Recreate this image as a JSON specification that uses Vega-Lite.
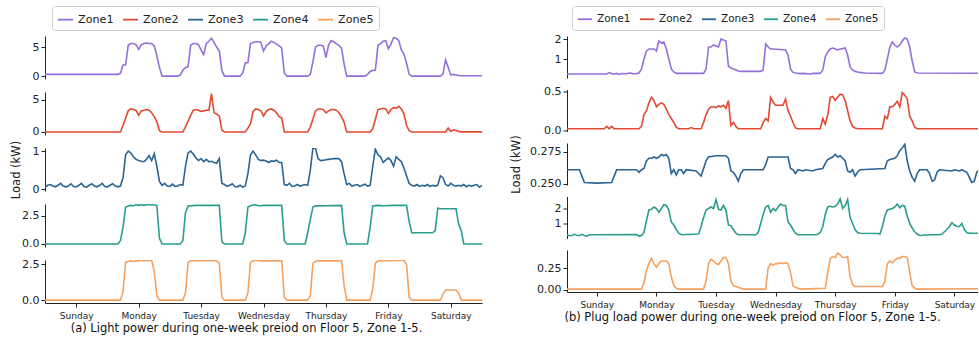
{
"$schema":"https://vega.github.io/schema/vega-lite/v6.json",
"autosize":{"type":"pad"},
"padding":{"left":10,"top":5,"right":0,"bottom":2},
"config":{"font":"DejaVu Sans","view":{"stroke":null},"axis":{"grid":false,"domainColor":"#222","domainWidth":1,"tickColor":"#222","tickSize":4,"labelColor":"#222","labelFontSize":11,"labelPadding":2,"labelFont":"DejaVu Sans","titleFont":"DejaVu Sans"},"legend":{"labelFont":"DejaVu Sans"}},
"datasets":{
"a1":[{"t":0,"v":0.3},{"t":28,"v":0.3},{"t":29,"v":0.5},{"t":30,"v":1.9},{"t":31,"v":1.9},{"t":32,"v":5.3},{"t":33,"v":5.6},{"t":34,"v":5.6},{"t":35,"v":5.4},{"t":36,"v":4.6},{"t":37,"v":5.4},{"t":38,"v":5.6},{"t":39,"v":5.7},{"t":40,"v":5.6},{"t":41,"v":5.6},{"t":42,"v":5.2},{"t":43,"v":3.5},{"t":44,"v":1.5},{"t":45,"v":0},{"t":51,"v":0},{"t":52,"v":0.2},{"t":53,"v":1.0},{"t":54,"v":1.5},{"t":55,"v":1.6},{"t":56,"v":5.3},{"t":57,"v":5.6},{"t":58,"v":5.6},{"t":59,"v":5.4},{"t":60,"v":4.5},{"t":61,"v":3.7},{"t":62,"v":5.6},{"t":63,"v":6.0},{"t":64,"v":6.5},{"t":65,"v":5.8},{"t":66,"v":5.0},{"t":67,"v":4.3},{"t":68,"v":1.0},{"t":69,"v":0},{"t":75,"v":0},{"t":76,"v":0.5},{"t":77,"v":2.3},{"t":78,"v":2.3},{"t":79,"v":5.6},{"t":80,"v":5.8},{"t":81,"v":5.9},{"t":82,"v":5.9},{"t":83,"v":5.8},{"t":84,"v":4.3},{"t":85,"v":5.2},{"t":86,"v":5.6},{"t":87,"v":6.0},{"t":88,"v":5.8},{"t":89,"v":5.5},{"t":90,"v":5.2},{"t":91,"v":4.8},{"t":92,"v":0.5},{"t":93,"v":0},{"t":101,"v":0},{"t":102,"v":0.3},{"t":103,"v":2.5},{"t":104,"v":5.0},{"t":105,"v":5.3},{"t":106,"v":5.3},{"t":107,"v":5.2},{"t":108,"v":3.2},{"t":109,"v":5.3},{"t":110,"v":6.1},{"t":111,"v":5.9},{"t":112,"v":5.6},{"t":113,"v":5.3},{"t":114,"v":4.8},{"t":115,"v":2.0},{"t":116,"v":0},{"t":123,"v":0},{"t":124,"v":0.3},{"t":125,"v":0.8},{"t":126,"v":1.0},{"t":127,"v":1.0},{"t":128,"v":5.3},{"t":129,"v":5.6},{"t":130,"v":6.0},{"t":131,"v":6.1},{"t":132,"v":4.7},{"t":133,"v":5.5},{"t":134,"v":6.6},{"t":135,"v":6.5},{"t":136,"v":6.1},{"t":137,"v":4.5},{"t":138,"v":3.8},{"t":139,"v":2.2},{"t":140,"v":0.3},{"t":141,"v":0},{"t":152,"v":0},{"t":153,"v":0.4},{"t":154,"v":2.8},{"t":155,"v":1.5},{"t":156,"v":0.2},{"t":157,"v":0.3},{"t":158,"v":0.2},{"t":159,"v":0.1},{"t":160,"v":0.05},{"t":168,"v":0.05}],
"a2":[{"t":0,"v":0},{"t":29,"v":0},{"t":30,"v":1.0},{"t":31,"v":2.2},{"t":32,"v":3.3},{"t":33,"v":3.6},{"t":34,"v":3.5},{"t":35,"v":3.4},{"t":36,"v":2.6},{"t":37,"v":3.3},{"t":38,"v":3.4},{"t":39,"v":3.5},{"t":40,"v":3.4},{"t":41,"v":3.0},{"t":42,"v":2.4},{"t":43,"v":1.6},{"t":44,"v":0.2},{"t":45,"v":0},{"t":53,"v":0},{"t":54,"v":0.8},{"t":55,"v":1.7},{"t":56,"v":2.6},{"t":57,"v":3.4},{"t":58,"v":3.5},{"t":59,"v":3.4},{"t":60,"v":3.2},{"t":61,"v":3.3},{"t":62,"v":3.4},{"t":63,"v":3.4},{"t":64,"v":6.0},{"t":65,"v":3.0},{"t":66,"v":2.8},{"t":67,"v":2.5},{"t":68,"v":0.3},{"t":69,"v":0},{"t":77,"v":0},{"t":78,"v":0.6},{"t":79,"v":1.3},{"t":80,"v":3.2},{"t":81,"v":3.6},{"t":82,"v":3.5},{"t":83,"v":3.3},{"t":84,"v":2.5},{"t":85,"v":3.2},{"t":86,"v":3.5},{"t":87,"v":3.6},{"t":88,"v":3.4},{"t":89,"v":3.0},{"t":90,"v":2.4},{"t":91,"v":2.2},{"t":92,"v":0},{"t":101,"v":0},{"t":102,"v":0.8},{"t":103,"v":2.0},{"t":104,"v":3.3},{"t":105,"v":3.6},{"t":106,"v":3.6},{"t":107,"v":3.5},{"t":108,"v":3.0},{"t":109,"v":3.3},{"t":110,"v":3.5},{"t":111,"v":3.5},{"t":112,"v":3.4},{"t":113,"v":3.0},{"t":114,"v":2.4},{"t":115,"v":1.5},{"t":116,"v":0},{"t":125,"v":0},{"t":126,"v":0.5},{"t":127,"v":2.0},{"t":128,"v":3.5},{"t":129,"v":3.6},{"t":130,"v":3.7},{"t":131,"v":3.6},{"t":132,"v":2.9},{"t":133,"v":3.5},{"t":134,"v":3.8},{"t":135,"v":3.7},{"t":136,"v":4.0},{"t":137,"v":3.6},{"t":138,"v":2.8},{"t":139,"v":1.0},{"t":140,"v":0.2},{"t":141,"v":0},{"t":154,"v":0},{"t":155,"v":0.6},{"t":156,"v":0.1},{"t":157,"v":0.35},{"t":158,"v":0.25},{"t":159,"v":0.1},{"t":160,"v":0.02},{"t":168,"v":0.02}],
"a3":[{"t":0,"v":0.05},{"t":1,"v":0.1},{"t":2,"v":0.12},{"t":3,"v":0.08},{"t":4,"v":0.06},{"t":5,"v":0.1},{"t":6,"v":0.15},{"t":7,"v":0.08},{"t":8,"v":0.06},{"t":9,"v":0.08},{"t":10,"v":0.14},{"t":11,"v":0.07},{"t":12,"v":0.06},{"t":13,"v":0.1},{"t":14,"v":0.15},{"t":15,"v":0.07},{"t":16,"v":0.05},{"t":17,"v":0.1},{"t":18,"v":0.14},{"t":19,"v":0.08},{"t":20,"v":0.06},{"t":21,"v":0.1},{"t":22,"v":0.15},{"t":23,"v":0.07},{"t":24,"v":0.06},{"t":25,"v":0.1},{"t":26,"v":0.14},{"t":27,"v":0.08},{"t":28,"v":0.06},{"t":29,"v":0.08},{"t":30,"v":0.3},{"t":31,"v":0.9},{"t":32,"v":1.0},{"t":33,"v":0.95},{"t":34,"v":0.85},{"t":35,"v":0.78},{"t":36,"v":0.75},{"t":37,"v":0.73},{"t":38,"v":0.72},{"t":39,"v":0.78},{"t":40,"v":0.88},{"t":41,"v":0.75},{"t":42,"v":0.93},{"t":43,"v":0.6},{"t":44,"v":0.2},{"t":45,"v":0.1},{"t":46,"v":0.15},{"t":47,"v":0.08},{"t":48,"v":0.07},{"t":49,"v":0.13},{"t":50,"v":0.07},{"t":51,"v":0.08},{"t":52,"v":0.12},{"t":53,"v":0.1},{"t":54,"v":0.6},{"t":55,"v":0.95},{"t":56,"v":1.0},{"t":57,"v":0.92},{"t":58,"v":0.82},{"t":59,"v":0.75},{"t":60,"v":0.8},{"t":61,"v":0.72},{"t":62,"v":0.78},{"t":63,"v":0.72},{"t":64,"v":0.73},{"t":65,"v":0.7},{"t":66,"v":0.68},{"t":67,"v":0.8},{"t":68,"v":0.15},{"t":69,"v":0.12},{"t":70,"v":0.07},{"t":71,"v":0.1},{"t":72,"v":0.14},{"t":73,"v":0.07},{"t":74,"v":0.06},{"t":75,"v":0.1},{"t":76,"v":0.05},{"t":77,"v":0.08},{"t":78,"v":0.4},{"t":79,"v":0.9},{"t":80,"v":1.0},{"t":81,"v":0.9},{"t":82,"v":0.78},{"t":83,"v":0.75},{"t":84,"v":0.76},{"t":85,"v":0.74},{"t":86,"v":0.7},{"t":87,"v":0.74},{"t":88,"v":0.73},{"t":89,"v":0.76},{"t":90,"v":0.7},{"t":91,"v":0.7},{"t":92,"v":0.12},{"t":93,"v":0.1},{"t":94,"v":0.15},{"t":95,"v":0.07},{"t":96,"v":0.08},{"t":97,"v":0.12},{"t":98,"v":0.08},{"t":99,"v":0.1},{"t":100,"v":0.12},{"t":101,"v":0.1},{"t":102,"v":0.5},{"t":103,"v":1.08},{"t":104,"v":1.07},{"t":105,"v":0.8},{"t":106,"v":0.75},{"t":107,"v":0.76},{"t":108,"v":0.77},{"t":109,"v":0.78},{"t":110,"v":0.79},{"t":111,"v":0.8},{"t":112,"v":0.8},{"t":113,"v":0.8},{"t":114,"v":0.72},{"t":115,"v":0.4},{"t":116,"v":0.12},{"t":117,"v":0.15},{"t":118,"v":0.08},{"t":119,"v":0.1},{"t":120,"v":0.12},{"t":121,"v":0.07},{"t":122,"v":0.1},{"t":123,"v":0.13},{"t":124,"v":0.08},{"t":125,"v":0.1},{"t":126,"v":0.6},{"t":127,"v":1.05},{"t":128,"v":0.9},{"t":129,"v":0.85},{"t":130,"v":0.7},{"t":131,"v":0.76},{"t":132,"v":0.82},{"t":133,"v":0.75},{"t":134,"v":0.6},{"t":135,"v":0.85},{"t":136,"v":0.78},{"t":137,"v":0.72},{"t":138,"v":0.55},{"t":139,"v":0.35},{"t":140,"v":0.15},{"t":141,"v":0.1},{"t":142,"v":0.08},{"t":143,"v":0.12},{"t":144,"v":0.07},{"t":145,"v":0.1},{"t":146,"v":0.08},{"t":147,"v":0.12},{"t":148,"v":0.07},{"t":149,"v":0.1},{"t":150,"v":0.08},{"t":151,"v":0.1},{"t":152,"v":0.35},{"t":153,"v":0.3},{"t":154,"v":0.12},{"t":155,"v":0.08},{"t":156,"v":0.15},{"t":157,"v":0.1},{"t":158,"v":0.08},{"t":159,"v":0.1},{"t":160,"v":0.08},{"t":161,"v":0.12},{"t":162,"v":0.06},{"t":163,"v":0.1},{"t":164,"v":0.08},{"t":165,"v":0.1},{"t":166,"v":0.12},{"t":167,"v":0.05},{"t":168,"v":0.1}],
"a4":[{"t":0,"v":0},{"t":28,"v":0},{"t":29,"v":0.3},{"t":30,"v":1.5},{"t":31,"v":3.3},{"t":32,"v":3.4},{"t":33,"v":3.45},{"t":34,"v":3.42},{"t":35,"v":3.5},{"t":36,"v":3.45},{"t":37,"v":3.52},{"t":38,"v":3.45},{"t":39,"v":3.5},{"t":40,"v":3.5},{"t":41,"v":3.5},{"t":42,"v":3.48},{"t":43,"v":3.45},{"t":44,"v":0.5},{"t":45,"v":0},{"t":52,"v":0},{"t":53,"v":0.3},{"t":54,"v":2.8},{"t":55,"v":3.4},{"t":58,"v":3.45},{"t":67,"v":3.45},{"t":68,"v":0.2},{"t":69,"v":0},{"t":76,"v":0},{"t":77,"v":1.0},{"t":78,"v":3.3},{"t":79,"v":3.42},{"t":80,"v":3.48},{"t":81,"v":3.5},{"t":82,"v":3.42},{"t":83,"v":3.42},{"t":84,"v":3.45},{"t":91,"v":3.45},{"t":92,"v":0.3},{"t":93,"v":0},{"t":100,"v":0},{"t":101,"v":1.0},{"t":102,"v":2.2},{"t":103,"v":3.3},{"t":104,"v":3.4},{"t":108,"v":3.42},{"t":114,"v":3.45},{"t":115,"v":1.0},{"t":116,"v":0},{"t":124,"v":0},{"t":125,"v":1.5},{"t":126,"v":3.4},{"t":128,"v":3.45},{"t":130,"v":3.42},{"t":134,"v":3.45},{"t":139,"v":3.45},{"t":140,"v":2.0},{"t":141,"v":1.0},{"t":149,"v":1.0},{"t":150,"v":1.2},{"t":151,"v":3.2},{"t":152,"v":3.15},{"t":158,"v":3.15},{"t":159,"v":1.8},{"t":160,"v":1.2},{"t":161,"v":0},{"t":168,"v":0}],
"a5":[{"t":0,"v":0},{"t":29,"v":0},{"t":30,"v":0.6},{"t":31,"v":2.63},{"t":32,"v":2.68},{"t":33,"v":2.72},{"t":34,"v":2.68},{"t":35,"v":2.72},{"t":36,"v":2.72},{"t":37,"v":2.76},{"t":38,"v":2.72},{"t":39,"v":2.74},{"t":40,"v":2.75},{"t":41,"v":2.76},{"t":42,"v":2.0},{"t":43,"v":0.3},{"t":44,"v":0},{"t":53,"v":0},{"t":54,"v":0.5},{"t":55,"v":2.63},{"t":56,"v":2.72},{"t":58,"v":2.74},{"t":66,"v":2.74},{"t":67,"v":2.55},{"t":68,"v":0.2},{"t":69,"v":0},{"t":77,"v":0},{"t":78,"v":0.5},{"t":79,"v":2.63},{"t":80,"v":2.72},{"t":81,"v":2.76},{"t":83,"v":2.72},{"t":91,"v":2.72},{"t":92,"v":0.2},{"t":93,"v":0},{"t":101,"v":0},{"t":102,"v":0.3},{"t":103,"v":2.55},{"t":104,"v":2.68},{"t":105,"v":2.72},{"t":114,"v":2.72},{"t":115,"v":1.0},{"t":116,"v":0},{"t":125,"v":0},{"t":126,"v":0.8},{"t":127,"v":2.55},{"t":128,"v":2.72},{"t":138,"v":2.76},{"t":139,"v":2.45},{"t":140,"v":0.2},{"t":141,"v":0},{"t":152,"v":0},{"t":153,"v":0.4},{"t":154,"v":0.7},{"t":158,"v":0.7},{"t":159,"v":0.5},{"t":160,"v":0},{"t":168,"v":0}],
"b1":[{"t":0,"v":0.25},{"t":16,"v":0.25},{"t":17,"v":0.32},{"t":18,"v":0.27},{"t":19,"v":0.25},{"t":20,"v":0.28},{"t":21,"v":0.23},{"t":22,"v":0.27},{"t":24,"v":0.26},{"t":25,"v":0.3},{"t":26,"v":0.28},{"t":27,"v":0.26},{"t":28,"v":0.27},{"t":29,"v":0.3},{"t":30,"v":0.5},{"t":31,"v":1.0},{"t":32,"v":1.4},{"t":33,"v":1.5},{"t":34,"v":1.5},{"t":35,"v":1.5},{"t":36,"v":1.4},{"t":37,"v":1.9},{"t":38,"v":1.8},{"t":39,"v":1.85},{"t":40,"v":1.5},{"t":41,"v":1.0},{"t":42,"v":0.5},{"t":43,"v":0.35},{"t":44,"v":0.28},{"t":55,"v":0.28},{"t":56,"v":0.5},{"t":57,"v":1.6},{"t":58,"v":1.6},{"t":59,"v":1.7},{"t":60,"v":1.65},{"t":61,"v":1.6},{"t":62,"v":2.0},{"t":63,"v":1.95},{"t":64,"v":1.9},{"t":65,"v":0.65},{"t":66,"v":0.55},{"t":67,"v":0.5},{"t":68,"v":0.45},{"t":69,"v":0.4},{"t":70,"v":0.38},{"t":78,"v":0.38},{"t":79,"v":0.45},{"t":80,"v":1.75},{"t":81,"v":1.6},{"t":82,"v":1.5},{"t":83,"v":1.5},{"t":88,"v":1.45},{"t":89,"v":1.2},{"t":90,"v":0.5},{"t":91,"v":0.33},{"t":92,"v":0.3},{"t":94,"v":0.27},{"t":95,"v":0.28},{"t":98,"v":0.25},{"t":99,"v":0.28},{"t":102,"v":0.28},{"t":103,"v":0.45},{"t":104,"v":1.1},{"t":105,"v":1.35},{"t":106,"v":1.5},{"t":107,"v":1.55},{"t":108,"v":1.5},{"t":109,"v":1.45},{"t":110,"v":1.5},{"t":111,"v":1.52},{"t":112,"v":1.55},{"t":113,"v":1.2},{"t":114,"v":0.6},{"t":115,"v":0.45},{"t":116,"v":0.38},{"t":117,"v":0.35},{"t":118,"v":0.33},{"t":120,"v":0.3},{"t":127,"v":0.28},{"t":128,"v":0.45},{"t":129,"v":1.0},{"t":130,"v":1.6},{"t":131,"v":1.85},{"t":132,"v":1.7},{"t":133,"v":1.6},{"t":134,"v":1.7},{"t":135,"v":1.9},{"t":136,"v":2.05},{"t":137,"v":2.0},{"t":138,"v":1.6},{"t":139,"v":0.9},{"t":140,"v":0.35},{"t":141,"v":0.3},{"t":168,"v":0.29}],
"b2":[{"t":0,"v":0.02},{"t":15,"v":0.02},{"t":16,"v":0.05},{"t":17,"v":0.02},{"t":18,"v":0.05},{"t":19,"v":0.02},{"t":29,"v":0.02},{"t":30,"v":0.05},{"t":31,"v":0.2},{"t":32,"v":0.25},{"t":33,"v":0.35},{"t":34,"v":0.42},{"t":35,"v":0.38},{"t":36,"v":0.3},{"t":37,"v":0.33},{"t":38,"v":0.35},{"t":39,"v":0.33},{"t":40,"v":0.27},{"t":41,"v":0.2},{"t":42,"v":0.15},{"t":43,"v":0.1},{"t":44,"v":0.04},{"t":45,"v":0.02},{"t":49,"v":0.02},{"t":50,"v":0.035},{"t":51,"v":0.02},{"t":54,"v":0.02},{"t":55,"v":0.1},{"t":56,"v":0.2},{"t":57,"v":0.27},{"t":58,"v":0.3},{"t":59,"v":0.3},{"t":60,"v":0.29},{"t":61,"v":0.31},{"t":62,"v":0.3},{"t":63,"v":0.32},{"t":64,"v":0.28},{"t":65,"v":0.38},{"t":66,"v":0.06},{"t":67,"v":0.1},{"t":68,"v":0.05},{"t":69,"v":0.02},{"t":78,"v":0.02},{"t":79,"v":0.1},{"t":80,"v":0.15},{"t":81,"v":0.12},{"t":82,"v":0.42},{"t":83,"v":0.36},{"t":84,"v":0.32},{"t":87,"v":0.32},{"t":88,"v":0.4},{"t":89,"v":0.25},{"t":90,"v":0.18},{"t":91,"v":0.1},{"t":92,"v":0.03},{"t":93,"v":0.02},{"t":102,"v":0.02},{"t":103,"v":0.15},{"t":104,"v":0.08},{"t":105,"v":0.2},{"t":106,"v":0.42},{"t":107,"v":0.43},{"t":108,"v":0.38},{"t":109,"v":0.42},{"t":110,"v":0.46},{"t":111,"v":0.45},{"t":112,"v":0.38},{"t":113,"v":0.25},{"t":114,"v":0.12},{"t":115,"v":0.05},{"t":116,"v":0.03},{"t":117,"v":0.02},{"t":127,"v":0.02},{"t":128,"v":0.18},{"t":129,"v":0.15},{"t":130,"v":0.3},{"t":131,"v":0.3},{"t":132,"v":0.33},{"t":133,"v":0.37},{"t":134,"v":0.3},{"t":135,"v":0.48},{"t":136,"v":0.45},{"t":137,"v":0.4},{"t":138,"v":0.18},{"t":139,"v":0.12},{"t":140,"v":0.04},{"t":141,"v":0.02},{"t":168,"v":0.02}],
"b3":[{"t":0,"v":0.261},{"t":5,"v":0.261},{"t":6,"v":0.256},{"t":7,"v":0.251},{"t":12,"v":0.2505},{"t":18,"v":0.251},{"t":19,"v":0.256},{"t":20,"v":0.261},{"t":28,"v":0.261},{"t":29,"v":0.259},{"t":30,"v":0.261},{"t":31,"v":0.262},{"t":32,"v":0.268},{"t":33,"v":0.27},{"t":34,"v":0.27},{"t":35,"v":0.271},{"t":36,"v":0.27},{"t":37,"v":0.271},{"t":38,"v":0.273},{"t":39,"v":0.272},{"t":40,"v":0.273},{"t":41,"v":0.27},{"t":42,"v":0.258},{"t":43,"v":0.261},{"t":44,"v":0.257},{"t":45,"v":0.261},{"t":46,"v":0.261},{"t":47,"v":0.258},{"t":48,"v":0.261},{"t":52,"v":0.26},{"t":53,"v":0.258},{"t":54,"v":0.256},{"t":55,"v":0.262},{"t":56,"v":0.268},{"t":57,"v":0.271},{"t":60,"v":0.272},{"t":64,"v":0.272},{"t":65,"v":0.27},{"t":66,"v":0.26},{"t":67,"v":0.259},{"t":68,"v":0.256},{"t":69,"v":0.252},{"t":70,"v":0.258},{"t":71,"v":0.261},{"t":79,"v":0.261},{"t":80,"v":0.265},{"t":81,"v":0.271},{"t":89,"v":0.271},{"t":90,"v":0.262},{"t":91,"v":0.261},{"t":92,"v":0.258},{"t":93,"v":0.261},{"t":95,"v":0.26},{"t":96,"v":0.261},{"t":99,"v":0.26},{"t":100,"v":0.261},{"t":103,"v":0.262},{"t":104,"v":0.266},{"t":105,"v":0.269},{"t":106,"v":0.27},{"t":107,"v":0.271},{"t":108,"v":0.273},{"t":109,"v":0.271},{"t":110,"v":0.272},{"t":111,"v":0.27},{"t":112,"v":0.268},{"t":113,"v":0.26},{"t":114,"v":0.259},{"t":115,"v":0.261},{"t":116,"v":0.256},{"t":117,"v":0.259},{"t":118,"v":0.261},{"t":128,"v":0.262},{"t":129,"v":0.268},{"t":130,"v":0.269},{"t":132,"v":0.27},{"t":133,"v":0.272},{"t":134,"v":0.276},{"t":135,"v":0.278},{"t":136,"v":0.281},{"t":137,"v":0.268},{"t":138,"v":0.26},{"t":139,"v":0.255},{"t":140,"v":0.252},{"t":141,"v":0.258},{"t":142,"v":0.261},{"t":145,"v":0.261},{"t":146,"v":0.258},{"t":147,"v":0.252},{"t":148,"v":0.253},{"t":149,"v":0.259},{"t":150,"v":0.261},{"t":155,"v":0.26},{"t":156,"v":0.261},{"t":158,"v":0.26},{"t":159,"v":0.261},{"t":161,"v":0.259},{"t":162,"v":0.255},{"t":163,"v":0.251},{"t":164,"v":0.252},{"t":165,"v":0.259},{"t":166,"v":0.261},{"t":168,"v":0.261}],
"b4":[{"t":0,"v":0.25},{"t":1,"v":0.18},{"t":2,"v":0.2},{"t":3,"v":0.28},{"t":4,"v":0.22},{"t":5,"v":0.2},{"t":6,"v":0.28},{"t":7,"v":0.2},{"t":8,"v":0.15},{"t":9,"v":0.25},{"t":28,"v":0.27},{"t":29,"v":0.15},{"t":30,"v":0.2},{"t":31,"v":0.4},{"t":32,"v":1.2},{"t":33,"v":1.9},{"t":34,"v":1.95},{"t":35,"v":2.1},{"t":36,"v":2.0},{"t":37,"v":1.75},{"t":38,"v":2.0},{"t":39,"v":2.25},{"t":40,"v":2.2},{"t":41,"v":1.9},{"t":42,"v":1.1},{"t":43,"v":0.9},{"t":44,"v":0.6},{"t":45,"v":0.35},{"t":46,"v":0.25},{"t":53,"v":0.3},{"t":54,"v":0.8},{"t":55,"v":1.4},{"t":56,"v":1.9},{"t":57,"v":2.0},{"t":58,"v":2.1},{"t":59,"v":2.0},{"t":60,"v":2.6},{"t":61,"v":1.95},{"t":62,"v":1.9},{"t":63,"v":2.2},{"t":64,"v":1.9},{"t":65,"v":0.9},{"t":66,"v":0.85},{"t":67,"v":0.6},{"t":68,"v":0.35},{"t":69,"v":0.25},{"t":76,"v":0.25},{"t":77,"v":0.4},{"t":78,"v":1.0},{"t":79,"v":1.6},{"t":80,"v":2.1},{"t":81,"v":2.2},{"t":82,"v":1.75},{"t":83,"v":2.0},{"t":84,"v":1.85},{"t":85,"v":2.1},{"t":86,"v":2.3},{"t":87,"v":2.2},{"t":88,"v":2.2},{"t":89,"v":1.1},{"t":90,"v":0.9},{"t":91,"v":0.6},{"t":92,"v":0.35},{"t":93,"v":0.25},{"t":100,"v":0.25},{"t":101,"v":0.28},{"t":102,"v":0.4},{"t":103,"v":0.8},{"t":104,"v":1.6},{"t":105,"v":2.1},{"t":106,"v":2.15},{"t":107,"v":2.1},{"t":108,"v":2.15},{"t":109,"v":2.3},{"t":110,"v":2.65},{"t":111,"v":2.0},{"t":112,"v":2.2},{"t":113,"v":2.6},{"t":114,"v":1.4},{"t":115,"v":1.0},{"t":116,"v":0.6},{"t":117,"v":0.4},{"t":118,"v":0.35},{"t":125,"v":0.33},{"t":126,"v":0.3},{"t":127,"v":0.8},{"t":128,"v":1.5},{"t":129,"v":1.9},{"t":130,"v":1.95},{"t":131,"v":2.0},{"t":132,"v":2.1},{"t":133,"v":2.3},{"t":134,"v":2.05},{"t":135,"v":2.2},{"t":136,"v":2.15},{"t":137,"v":1.5},{"t":138,"v":1.0},{"t":139,"v":0.7},{"t":140,"v":0.45},{"t":141,"v":0.3},{"t":142,"v":0.22},{"t":143,"v":0.2},{"t":144,"v":0.25},{"t":145,"v":0.22},{"t":146,"v":0.25},{"t":150,"v":0.25},{"t":151,"v":0.3},{"t":152,"v":0.45},{"t":153,"v":0.6},{"t":154,"v":0.8},{"t":155,"v":1.05},{"t":156,"v":0.9},{"t":157,"v":0.8},{"t":158,"v":0.8},{"t":159,"v":1.0},{"t":160,"v":0.6},{"t":161,"v":0.4},{"t":162,"v":0.35},{"t":168,"v":0.35}],
"b5":[{"t":0,"v":0.01},{"t":30,"v":0.01},{"t":31,"v":0.08},{"t":32,"v":0.22},{"t":33,"v":0.3},{"t":34,"v":0.36},{"t":35,"v":0.3},{"t":36,"v":0.26},{"t":37,"v":0.3},{"t":38,"v":0.33},{"t":39,"v":0.33},{"t":40,"v":0.33},{"t":41,"v":0.3},{"t":42,"v":0.15},{"t":43,"v":0.05},{"t":44,"v":0.02},{"t":45,"v":0.01},{"t":55,"v":0.01},{"t":56,"v":0.1},{"t":57,"v":0.3},{"t":58,"v":0.35},{"t":59,"v":0.33},{"t":60,"v":0.3},{"t":61,"v":0.29},{"t":62,"v":0.33},{"t":63,"v":0.37},{"t":64,"v":0.37},{"t":65,"v":0.3},{"t":66,"v":0.1},{"t":67,"v":0.05},{"t":68,"v":0.04},{"t":69,"v":0.03},{"t":70,"v":0.02},{"t":71,"v":0.01},{"t":80,"v":0.01},{"t":81,"v":0.25},{"t":82,"v":0.3},{"t":83,"v":0.28},{"t":84,"v":0.3},{"t":85,"v":0.3},{"t":86,"v":0.31},{"t":87,"v":0.3},{"t":88,"v":0.31},{"t":89,"v":0.3},{"t":90,"v":0.2},{"t":91,"v":0.05},{"t":92,"v":0.03},{"t":93,"v":0.02},{"t":94,"v":0.01},{"t":104,"v":0.02},{"t":105,"v":0.2},{"t":106,"v":0.36},{"t":107,"v":0.38},{"t":108,"v":0.37},{"t":109,"v":0.42},{"t":110,"v":0.4},{"t":111,"v":0.37},{"t":112,"v":0.37},{"t":113,"v":0.38},{"t":114,"v":0.15},{"t":115,"v":0.06},{"t":116,"v":0.04},{"t":127,"v":0.04},{"t":128,"v":0.1},{"t":129,"v":0.3},{"t":130,"v":0.33},{"t":131,"v":0.31},{"t":132,"v":0.34},{"t":133,"v":0.36},{"t":134,"v":0.36},{"t":135,"v":0.38},{"t":136,"v":0.38},{"t":137,"v":0.37},{"t":138,"v":0.2},{"t":139,"v":0.05},{"t":140,"v":0.02},{"t":141,"v":0.01},{"t":168,"v":0.015}]
},
"resolve":{"scale":{"color":"independent"},"legend":{"color":"independent"}},
"spacing":28,
"hconcat":[
{"spacing":13,"bounds":"flush","resolve":{"scale":{"color":"independent"},"legend":{"color":"independent"}},
"vconcat":[
{"data":{"name":"a1"},"width":437,"height":43,"mark":{"type":"line","strokeWidth":1.6,"clip":true},
"encoding":{"x":{"field":"t","type":"quantitative","scale":{"domain":[0,168],"nice":false,"zero":false},"axis":null},
"y":{"field":"v","type":"quantitative","scale":{"domain":[-0.5,6.9],"nice":false,"zero":false},"axis":{"values":[0,5],"format":"d","title":null}},
"color":{"datum":"Zone1","scale":{"domain":["Zone1","Zone2","Zone3","Zone4","Zone5"],"range":["#9370db","#e24a33","#2a6496","#2a9d8f","#f4a261"]},
"legend":{"orient":"none","legendX":7,"legendY":-30,"direction":"horizontal","title":null,"symbolType":"stroke","symbolSize":225,"symbolStrokeWidth":1.8,"labelFontSize":11.2,"labelColor":"#222","strokeColor":"#d0d0d0","fillColor":"#ffffff","padding":5,"cornerRadius":3,"columnPadding":5,"labelOffset":4}}}},
{"data":{"name":"a2"},"width":437,"height":43,"mark":{"type":"line","strokeWidth":1.6,"clip":true},
"encoding":{"x":{"field":"t","type":"quantitative","scale":{"domain":[0,168],"nice":false,"zero":false},"axis":null},
"y":{"field":"v","type":"quantitative","scale":{"domain":[-0.47,6.25],"nice":false,"zero":false},"axis":{"values":[0,5],"format":"d","title":null}},
"color":{"datum":"Zone2","scale":{"domain":["Zone1","Zone2","Zone3","Zone4","Zone5"],"range":["#9370db","#e24a33","#2a6496","#2a9d8f","#f4a261"]},"legend":null}}},
{"data":{"name":"a3"},"width":437,"height":43,"mark":{"type":"line","strokeWidth":1.6,"clip":true},
"encoding":{"x":{"field":"t","type":"quantitative","scale":{"domain":[0,168],"nice":false,"zero":false},"axis":null},
"y":{"field":"v","type":"quantitative","scale":{"domain":[-0.05,1.08],"nice":false,"zero":false},"axis":{"values":[0,1],"format":"d","title":"Load (kW)","titleX":-24,"titleY":21.5,"titleAngle":270,"titleAlign":"center","titleBaseline":"bottom","titleFontSize":11.5,"titleFontWeight":"normal","titleColor":"#222"}},
"color":{"datum":"Zone3","scale":{"domain":["Zone1","Zone2","Zone3","Zone4","Zone5"],"range":["#9370db","#e24a33","#2a6496","#2a9d8f","#f4a261"]},"legend":null}}},
{"data":{"name":"a4"},"width":437,"height":43,"mark":{"type":"line","strokeWidth":1.6,"clip":true},
"encoding":{"x":{"field":"t","type":"quantitative","scale":{"domain":[0,168],"nice":false,"zero":false},"axis":null},
"y":{"field":"v","type":"quantitative","scale":{"domain":[-0.27,3.57],"nice":false,"zero":false},"axis":{"values":[0,2.5],"format":".1f","title":null}},
"color":{"datum":"Zone4","scale":{"domain":["Zone1","Zone2","Zone3","Zone4","Zone5"],"range":["#9370db","#e24a33","#2a6496","#2a9d8f","#f4a261"]},"legend":null}}},
{"data":{"name":"a5"},"width":437,"height":43,"mark":{"type":"line","strokeWidth":1.6,"clip":true},
"encoding":{"x":{"field":"t","type":"quantitative","scale":{"domain":[0,168],"nice":false,"zero":false},
"axis":{"values":[12,36,60,84,108,132,156],"labelExpr":"['Sunday','Monday','Tuesday','Wednesday','Thursday','Friday','Saturday'][floor(datum.value/24)]","labelFontSize":9,"labelPadding":4,"title":"(a) Light power during one-week preiod on Floor 5, Zone 1-5.","titleFontSize":11.5,"titleFontWeight":"normal","titleColor":"#111","titlePadding":2,"titleX":201,"titleAlign":"center"}},
"y":{"field":"v","type":"quantitative","scale":{"domain":[-0.2,2.78],"nice":false,"zero":false},"axis":{"values":[0,2.5],"format":".1f","title":null}},
"color":{"datum":"Zone5","scale":{"domain":["Zone1","Zone2","Zone3","Zone4","Zone5"],"range":["#9370db","#e24a33","#2a6496","#2a9d8f","#f4a261"]},"legend":null}}}
]},
{"spacing":11.5,"bounds":"flush","resolve":{"scale":{"color":"independent"},"legend":{"color":"independent"}},
"vconcat":[
{"data":{"name":"b1"},"width":411,"height":42,"mark":{"type":"line","strokeWidth":1.6,"clip":true},
"encoding":{"x":{"field":"t","type":"quantitative","scale":{"domain":[0,165.5],"nice":false,"zero":false},"axis":null},
"y":{"field":"v","type":"quantitative","scale":{"domain":[0.05,2.15],"nice":false,"zero":false},"axis":{"values":[1,2],"format":"d","title":null}},
"color":{"datum":"Zone1","scale":{"domain":["Zone1","Zone2","Zone3","Zone4","Zone5"],"range":["#9370db","#e24a33","#2a6496","#2a9d8f","#f4a261"]},
"legend":{"orient":"none","legendX":5,"legendY":-30,"direction":"horizontal","title":null,"symbolType":"stroke","symbolSize":196,"symbolStrokeWidth":1.8,"labelFontSize":10.5,"labelColor":"#222","strokeColor":"#d0d0d0","fillColor":"#ffffff","padding":5,"cornerRadius":3,"columnPadding":5,"labelOffset":4}}}},
{"data":{"name":"b2"},"width":411,"height":42,"mark":{"type":"line","strokeWidth":1.6,"clip":true},
"encoding":{"x":{"field":"t","type":"quantitative","scale":{"domain":[0,165.5],"nice":false,"zero":false},"axis":null},
"y":{"field":"v","type":"quantitative","scale":{"domain":[-0.015,0.52],"nice":false,"zero":false},"axis":{"values":[0,0.5],"format":".1f","title":null}},
"color":{"datum":"Zone2","scale":{"domain":["Zone1","Zone2","Zone3","Zone4","Zone5"],"range":["#9370db","#e24a33","#2a6496","#2a9d8f","#f4a261"]},"legend":null}}},
{"data":{"name":"b3"},"width":411,"height":42,"mark":{"type":"line","strokeWidth":1.6,"clip":true},
"encoding":{"x":{"field":"t","type":"quantitative","scale":{"domain":[0,165.5],"nice":false,"zero":false},"axis":null},
"y":{"field":"v","type":"quantitative","scale":{"domain":[0.249,0.282],"nice":false,"zero":false},"axis":{"values":[0.25,0.275],"format":".3f","title":"Load (kW)","titleX":-46,"titleY":21,"titleAngle":270,"titleAlign":"center","titleBaseline":"bottom","titleFontSize":11.5,"titleFontWeight":"normal","titleColor":"#222"}},
"color":{"datum":"Zone3","scale":{"domain":["Zone1","Zone2","Zone3","Zone4","Zone5"],"range":["#9370db","#e24a33","#2a6496","#2a9d8f","#f4a261"]},"legend":null}}},
{"data":{"name":"b4"},"width":411,"height":42,"mark":{"type":"line","strokeWidth":1.6,"clip":true},
"encoding":{"x":{"field":"t","type":"quantitative","scale":{"domain":[0,165.5],"nice":false,"zero":false},"axis":null},
"y":{"field":"v","type":"quantitative","scale":{"domain":[0,2.8],"nice":false,"zero":false},"axis":{"values":[1,2],"format":"d","title":null}},
"color":{"datum":"Zone4","scale":{"domain":["Zone1","Zone2","Zone3","Zone4","Zone5"],"range":["#9370db","#e24a33","#2a6496","#2a9d8f","#f4a261"]},"legend":null}}},
{"data":{"name":"b5"},"width":411,"height":42,"mark":{"type":"line","strokeWidth":1.6,"clip":true},
"encoding":{"x":{"field":"t","type":"quantitative","scale":{"domain":[0,165.5],"nice":false,"zero":false},
"axis":{"values":[12,36,60,84,108,132,156],"labelExpr":"['Sunday','Monday','Tuesday','Wednesday','Thursday','Friday','Saturday'][floor(datum.value/24)]","labelFontSize":9,"labelPadding":4,"title":"(b) Plug load power during one-week preiod on Floor 5, Zone 1-5.","titleFontSize":11.5,"titleFontWeight":"normal","titleColor":"#111","titlePadding":2,"titleX":185,"titleAlign":"center"}},
"y":{"field":"v","type":"quantitative","scale":{"domain":[-0.023,0.455],"nice":false,"zero":false},"axis":{"values":[0,0.25],"format":".2f","title":null}},
"color":{"datum":"Zone5","scale":{"domain":["Zone1","Zone2","Zone3","Zone4","Zone5"],"range":["#9370db","#e24a33","#2a6496","#2a9d8f","#f4a261"]},"legend":null}}}
]}
]
}
